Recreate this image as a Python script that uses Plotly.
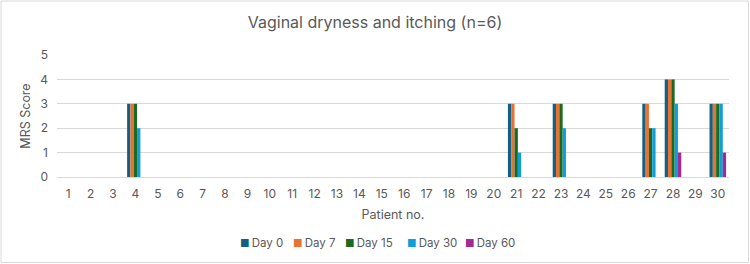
import plotly.graph_objects as go

patients = list(range(1, 31))
series_names = ["Day 0", "Day 7", "Day 15", "Day 30", "Day 60"]
colors = ["#156082", "#E97132", "#196B24", "#0F9ED5", "#A02B93"]

# nonzero scores per patient: patient -> [Day0, Day7, Day15, Day30, Day60]
scores = {
    4: [3, 3, 3, 2, 0],
    21: [3, 3, 2, 1, 0],
    23: [3, 3, 3, 2, 0],
    27: [3, 3, 2, 2, 0],
    28: [4, 4, 4, 3, 1],
    30: [3, 3, 3, 3, 1],
}

fig = go.Figure()
for i, name in enumerate(series_names):
    vals = [scores.get(p, [0] * 5)[i] for p in patients]
    fig.add_trace(go.Bar(x=patients, y=vals, name=name, marker_color=colors[i],
                         marker_line_width=0, showlegend=False))

W, H = 750, 264
ml, mr, mt, mb = 57, 21, 55, 87
pw, ph = W - ml - mr, H - mt - mb

fig.update_layout(
    width=W, height=H,
    margin=dict(l=ml, r=mr, t=mt, b=mb, autoexpand=False),
    paper_bgcolor="white", plot_bgcolor="white",
    font=dict(family="Inter, Open Sans, sans-serif", color="#595959", size=12),
    title=dict(text="Vaginal dryness and itching (n=6)", x=0.5, xanchor="center",
               y=1 - 22 / H, yanchor="middle",
               font=dict(size=16, color="#595959")),
    barmode="group", bargap=0.26, bargroupgap=0,
    xaxis=dict(tickmode="array", tickvals=patients, ticktext=[str(p) for p in patients],
               range=[0.5, 30.5], showgrid=False, zeroline=False, showline=False,
               automargin=False, ticks="", ticklabelstandoff=8,
               title=dict(text="Patient no.", font=dict(size=12.5, color="#595959"),
                          standoff=10),
               tickfont=dict(size=12, color="#595959")),
    yaxis=dict(range=[0, 5], dtick=1, showgrid=True, gridcolor="#D9D9D9", gridwidth=1,
               zeroline=True, zerolinecolor="#D9D9D9", zerolinewidth=1,
               automargin=False, ticks="", ticklabelstandoff=8,
               title=dict(text="MRS Score", font=dict(size=12.5, color="#595959"), standoff=6),
               tickfont=dict(size=12, color="#595959")),
)

# legend drawn as annotations (tight Office-style spacing)
legend_x = [238, 291, 343, 405, 463]
for name, col, lx in zip(series_names, colors, legend_x):
    fig.add_annotation(
        xref="paper", yref="paper", x=(lx - ml) / pw, y=-(243 - (mt + ph)) / ph,
        xanchor="left", yanchor="middle", showarrow=False,
        text=f"<span style='color:{col};font-size:10.5px'>■</span>&#8201;{name}",
        font=dict(size=11.5, color="#595959"))

fig.add_shape(type="rect", xref="paper", yref="paper",
              x0=-(ml - 1) / pw, x1=1 + (mr - 1.5) / pw,
              y0=-(mb - 1.5) / ph, y1=1 + (mt - 1) / ph,
              line=dict(color="#D9D9D9", width=1), fillcolor="rgba(0,0,0,0)",
              layer="below")

fig.write_html("out.html")
